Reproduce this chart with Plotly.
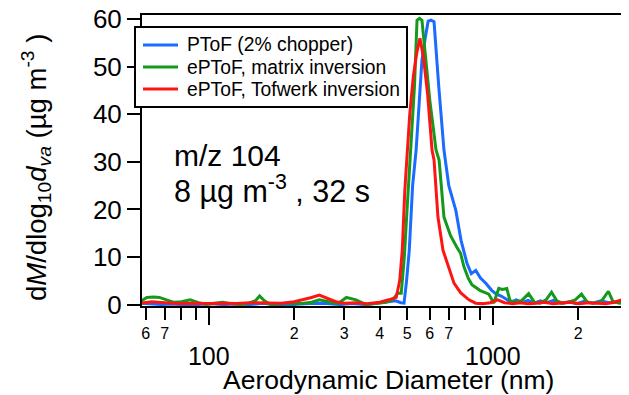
import plotly.graph_objects as go
import math

# ---------------- data ----------------
d_ptof = [58, 63, 68, 75, 83, 92, 100, 112, 125, 140, 155, 170, 190, 210, 235, 260, 290, 320, 355, 390,
          425, 455, 475, 487, 497, 508, 522, 537, 550, 563, 578, 592, 606, 621, 645, 673, 700, 741, 773, 811,
          840, 871, 905, 945, 991, 1030, 1070, 1111, 1160, 1210, 1270, 1330, 1400, 1470, 1550, 1640, 1740,
          1850, 1970, 2100, 2250, 2400, 2560, 2730, 2900, 3000]
v_ptof = [0.3, 0.2, 0.0, 0.1, -0.1, 0.0, 0.2, 0.0, 0.1, 0.0, 0.3, 0.0, -0.1, 0.1, 0.3, 0.2, 0.0, 0.2, 0.0, 0.3,
          0.5, 0.8, 0.4, 0.3, 5.0, 11.4, 25.0, 32.5, 42.0, 51.4, 56.0, 59.6, 59.8, 59.5, 46.0, 32.5, 25.0, 19.8, 13.5, 8.7,
          6.5, 7.2, 5.6, 4.5, 3.0, 2.2, 1.8, 1.2, 0.5, 1.0, 0.4, 0.9, 0.3, 0.8, 0.4, 0.9, 0.3,
          0.6, 0.2, 0.7, 0.3, 0.8, 0.4, 0.6, 0.2, 0.5]

d_matrix = [58, 60.5, 64, 67, 71, 75, 80, 86, 92, 98, 105, 112, 120, 128, 137, 146, 151, 157, 165, 175,
            190, 210, 230, 245, 262, 285, 305, 330, 358, 385, 420, 445, 462, 476, 488, 499, 515, 530, 541, 552,
            563, 580, 600, 631, 647, 673, 710, 748, 770, 791, 820, 844, 900, 968, 991, 1008, 1030, 1050, 1080, 1120,
            1150, 1200, 1260, 1337, 1400, 1470, 1540, 1610, 1680, 1760, 1850, 1950, 2052, 2150, 2260, 2400, 2552,
            2650, 2800, 3000]
v_matrix = [0.8, 1.5, 1.6, 1.5, 1.0, 0.5, 0.6, 1.0, 0.4, 0.0, 0.3, 0.5, 0.2, 0.0, 0.2, 0.8, 1.8, 0.8, 0.0, 0.1,
            0.3, 0.2, 0.5, 1.0, 0.6, 0.2, 1.5, 1.0, 0.0, 0.3, 0.5, 1.0, 2.4, 2.4, 10.0, 20.0, 32.5, 46.0, 59.8, 60.2,
            59.8, 52.0, 43.0, 32.5, 30.4, 18.4, 14.5, 12.0, 10.8, 8.0, 5.5, 4.2, 3.0, 2.2, 0.9, 0.3, 2.0, 3.4, 3.2, 3.4,
            0.8, 0.5, 0.8, 2.3, 0.5, 0.3, 1.0, 2.6, 0.8, 0.3, 0.5, 1.0, 2.2, 0.5, 0.3, 0.5, 2.8,
            0.6, 0.3, 0.4]

d_tofwerk = [58, 63, 70, 78, 88, 100, 112, 125, 140, 160, 180, 200, 215, 230, 245, 260, 280, 300, 330, 360,
             400, 430, 457, 470, 480, 490, 499, 510, 525, 540, 554, 570, 590, 611, 621, 641, 668, 700, 730, 770,
             824, 870, 920, 980, 1040, 1100, 1170, 1250, 1330, 1420, 1520, 1630, 1750, 1880, 2020, 2170, 2330,
             2500, 2680, 2850, 3000]
v_tofwerk = [0.3, 0.6, 0.4, 0.2, 0.3, 0.2, 0.3, 0.2, 0.4, 0.3, 0.3, 0.6, 1.0, 1.5, 2.0, 1.4, 0.6, 0.3, 0.4, 0.2,
             0.5, 1.0, 1.5, 5.0, 11.4, 24.0, 32.5, 40.0, 48.0, 53.0, 56.0, 52.0, 44.0, 32.5, 30.4, 18.4, 11.4, 7.5, 4.5, 2.5,
             1.0, 0.3, 0.2, 0.4, 1.0, 0.4, 0.2, 0.4, 0.2, 0.3, 0.5, 0.2, 0.3, 0.5, 0.2, 0.4, 0.3,
             0.2, 0.5, 1.0, 1.2]

series_names = ["PToF (2% chopper)", "ePToF, matrix inversion", "ePToF, Tofwerk inversion"]
series_colors = ["#1a6bff", "#15991c", "#ff1414"]

label_minor_vals = [60, 70, 200, 300, 400, 500, 600, 700, 2000, 3000]
label_minor_text = ["6", "7", "2", "3", "4", "5", "6", "7", "2", "3"]
unlabeled_minor_vals = [80, 90, 800, 900]
major_vals = [100, 1000]
major_text = ["100", "1000"]
y_ticks = [0, 10, 20, 30, 40, 50, 60]

# ---------------- figure ----------------
FONT = "Arial, Liberation Sans, sans-serif"
OFF = 8  # page body margin offset
FW, FH = 629 - OFF, 395 - OFF
L, T = 142 - OFF, 15 - OFF
PB = 306 - OFF  # plot bottom in figure px
B = FH - PB
H = PB - T
W = FW - L


def px(x):
    return (x - OFF - L) / W


def py(y):
    return (PB - (y - OFF)) / H


fig = go.Figure()
for d, v, n, c in zip([d_ptof, d_matrix, d_tofwerk], [v_ptof, v_matrix, v_tofwerk], series_names, series_colors):
    fig.add_trace(go.Scatter(x=d, y=v, mode="lines", name=n, line=dict(color=c, width=3),
                             xaxis="x", yaxis="y", showlegend=False))

fig.add_trace(go.Scatter(x=[100], y=[None], xaxis="x2", yaxis="y", showlegend=False, hoverinfo="skip"))

xr = [math.log10(58.2), 3.4795]

fig.update_layout(
    width=FW, height=FH,
    margin=dict(l=L, r=0, t=T, b=B, autoexpand=False),
    plot_bgcolor="white", paper_bgcolor="white",
    font=dict(family=FONT, color="black"),
    showlegend=False,
    xaxis=dict(type="log", range=xr, showline=True, linecolor="black", linewidth=2, mirror=True,
               showgrid=False, zeroline=False, ticklabeloverflow="allow",
               tickmode="array", tickvals=label_minor_vals, ticktext=label_minor_text,
               ticks="outside", ticklen=12, tickwidth=2, tickcolor="black",
               tickfont=dict(size=16),
               minor=dict(tickmode="array", tickvals=unlabeled_minor_vals, ticks="outside",
                          ticklen=12, tickwidth=2, tickcolor="black", showgrid=False)),
    xaxis2=dict(type="log", range=xr, overlaying="x", anchor="y", side="bottom",
                showline=False, showgrid=False, zeroline=False, ticklabeloverflow="allow",
                tickmode="array", tickvals=major_vals, ticktext=major_text,
                ticks="outside", ticklen=18, tickwidth=2, tickcolor="black",
                tickfont=dict(size=25), ticklabelstandoff=10),
    yaxis=dict(range=[-0.3, 60.9], showline=True, linecolor="black", linewidth=2,
               showgrid=False, zeroline=False, ticklabeloverflow="allow",
               tickmode="array", tickvals=y_ticks,
               ticks="outside", ticklen=13, tickwidth=2, tickcolor="black",
               tickfont=dict(size=26)),
)

# legend (drawn manually to match compact row spacing)
fig.add_shape(type="rect", xref="paper", yref="paper", x0=px(135), x1=px(407), y0=py(107), y1=py(27),
              line=dict(color="black", width=2), fillcolor="white", layer="above")
rows_y = [45, 67, 89]
for n, c, ry in zip(series_names, series_colors, rows_y):
    fig.add_shape(type="line", xref="paper", yref="paper", x0=px(143), x1=px(178), y0=py(ry), y1=py(ry),
                  line=dict(color=c, width=3), layer="above")
    fig.add_annotation(text=n, xref="paper", yref="paper", x=px(185), y=py(ry), xanchor="left",
                       yanchor="middle", showarrow=False, font=dict(size=19.3, family=FONT))

fig.add_annotation(text="Aerodynamic Diameter (nm)", xref="paper", yref="paper",
                   x=px(388), y=py(379.5), xanchor="center", yanchor="middle",
                   showarrow=False, font=dict(size=26.5, family=FONT))
fig.add_annotation(text="d<i>M</i>/dlog<sub>10</sub><i>d</i><sub><i>va</i></sub> (µg m<sup>-3</sup> )",
                   xref="paper", yref="paper", x=px(36), y=py(168), xanchor="center", yanchor="middle",
                   textangle=-90, showarrow=False, font=dict(size=27.5, family=FONT))
fig.add_annotation(text="m/z 104", xref="paper", yref="paper", x=px(172), y=py(155.5),
                   xanchor="left", yanchor="middle", showarrow=False, font=dict(size=30, family=FONT))
fig.add_annotation(text="8 µg m<sup>-3</sup> , 32 s", xref="paper", yref="paper", x=px(172), y=py(189.5),
                   xanchor="left", yanchor="middle", showarrow=False, font=dict(size=30.5, family=FONT))

fig.write_html("out.html")
